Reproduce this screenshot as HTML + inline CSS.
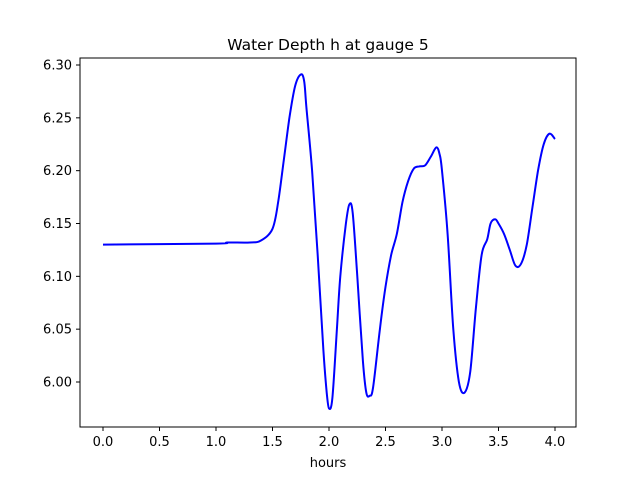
<!DOCTYPE html>
<html><head><meta charset="utf-8"><style>
body{margin:0;background:#fff;}
svg text{font-family:"DejaVu Sans","Liberation Sans",sans-serif;font-size:13px;fill:#000;}
</style></head><body>
<svg width="640" height="480">
<rect x="0" y="0" width="640" height="480" fill="#fff"/>
<text x="328" y="50" text-anchor="middle" style="font-size:15.5px">Water Depth h at gauge 5</text>
<g id="ticks"></g>
<path id="line" fill="none" stroke="#0000ff" stroke-width="2" stroke-linejoin="round"/>
<rect x="80" y="58" width="496" height="369" fill="none" stroke="#000" stroke-width="1"/>
<text x="328" y="467" text-anchor="middle">hours</text>
</svg>
<script>
const times=[0,1.0,1.1,1.3,1.4,1.5,1.55,1.6,1.65,1.7,1.75,1.78,1.8,1.85,1.9,1.95,1.98,2.0,2.03,2.07,2.1,2.15,2.18,2.21,2.25,2.3,2.33,2.36,2.39,2.45,2.5,2.55,2.6,2.65,2.7,2.75,2.8,2.85,2.9,2.95,2.98,3.0,3.05,3.1,3.15,3.2,3.25,3.3,3.35,3.4,3.43,3.47,3.5,3.55,3.6,3.65,3.7,3.75,3.8,3.85,3.9,3.95,4.0];
const depths=[6.130,6.131,6.132,6.132,6.134,6.145,6.17,6.21,6.25,6.28,6.291,6.285,6.26,6.20,6.12,6.03,5.99,5.975,5.985,6.05,6.10,6.15,6.168,6.16,6.10,6.02,5.99,5.987,5.995,6.05,6.09,6.12,6.14,6.17,6.19,6.202,6.204,6.205,6.213,6.222,6.215,6.20,6.14,6.05,6.00,5.99,6.01,6.07,6.12,6.135,6.15,6.154,6.15,6.14,6.125,6.11,6.112,6.13,6.165,6.20,6.225,6.235,6.23];
const xTicks=["0.0","0.5","1.0","1.5","2.0","2.5","3.0","3.5","4.0"];
const yTicks=["6.00","6.05","6.10","6.15","6.20","6.25","6.30"];
const xs=v=>103+v*113;
const ys=v=>382-(v-6.0)*(317/0.30);
const NS="http://www.w3.org/2000/svg";
const g=document.getElementById('ticks');
xTicks.forEach(t=>{
  const x=xs(parseFloat(t));
  const l=document.createElementNS(NS,'line');
  
  
  l.setAttribute('x1',x);l.setAttribute('x2',x);l.setAttribute('y1',427);l.setAttribute('y2',431);l.setAttribute('stroke','#000');
  g.appendChild(l);
  const tx=document.createElementNS(NS,'text');
  
  
  tx.setAttribute('x',x);tx.setAttribute('y',446);tx.setAttribute('text-anchor','middle');tx.textContent=t;
  g.appendChild(tx);
});
yTicks.forEach(t=>{
  const y=ys(parseFloat(t));
  const l=document.createElementNS(NS,'line');
  
  
  l.setAttribute('x1',76);l.setAttribute('x2',80);l.setAttribute('y1',y);l.setAttribute('y2',y);l.setAttribute('stroke','#000');
  g.appendChild(l);
  const tx=document.createElementNS(NS,'text');
  
  
  tx.setAttribute('x',72);tx.setAttribute('y',y+4.5);tx.setAttribute('text-anchor','end');tx.textContent=t;
  g.appendChild(tx);
});
const P=times.map((t,i)=>[xs(t),ys(depths[i])]);
let d='M'+P[0][0].toFixed(1)+','+P[0][1].toFixed(1);
for(let i=0;i<P.length-1;i++){
  const p0=P[Math.max(i-1,0)],p1=P[i],p2=P[i+1],p3=P[Math.min(i+2,P.length-1)];
  const c1=[p1[0]+(p2[0]-p0[0])/6,p1[1]+(p2[1]-p0[1])/6];
  const c2=[p2[0]-(p3[0]-p1[0])/6,p2[1]-(p3[1]-p1[1])/6];
  d+=' C'+c1.map(v=>v.toFixed(1)).join(',')+' '+c2.map(v=>v.toFixed(1)).join(',')+' '+p2.map(v=>v.toFixed(1)).join(',');
}
document.getElementById('line').setAttribute('d',d);
</script>
</body></html>
